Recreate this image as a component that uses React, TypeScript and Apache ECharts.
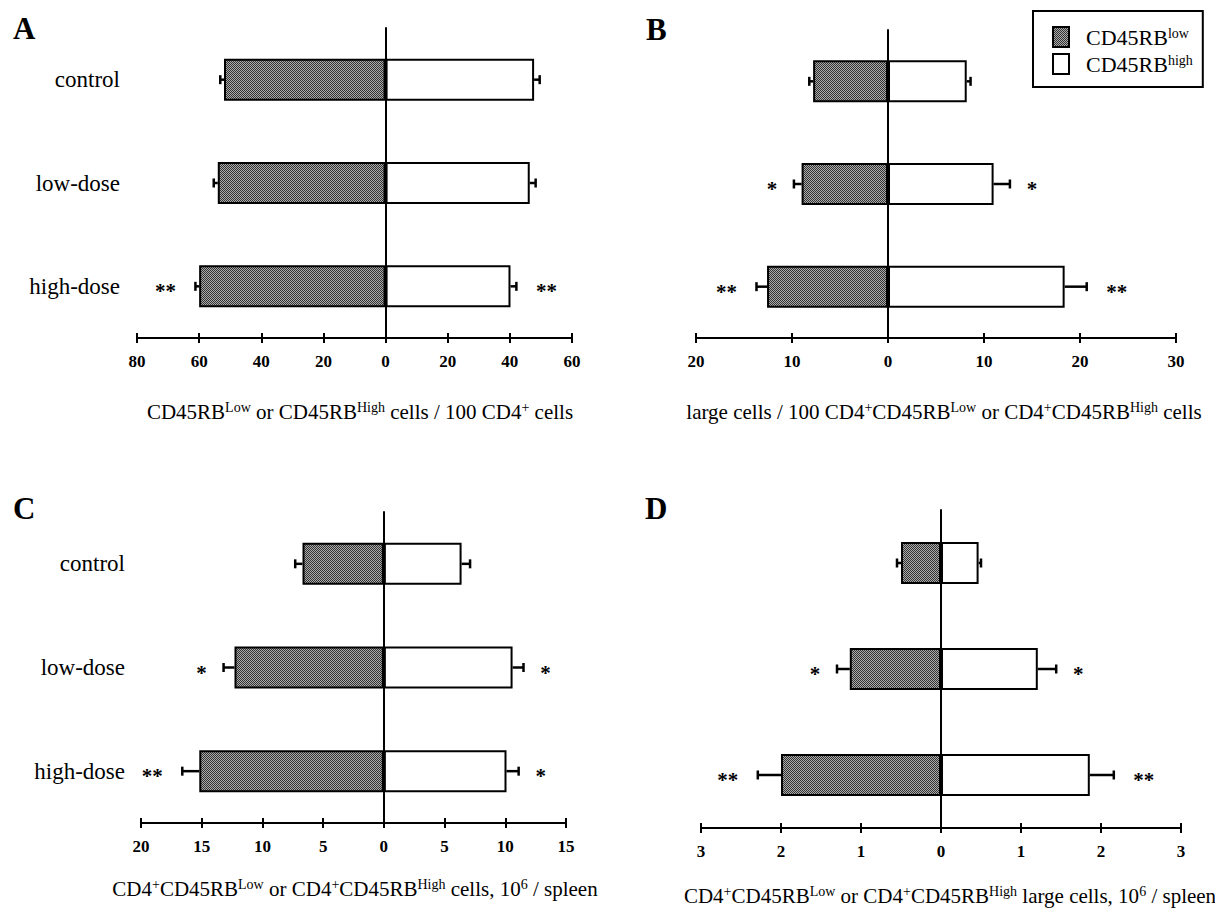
import React, { useEffect, useRef } from "react";
import * as echarts from "echarts";

const SERIF = "Liberation Serif";

const categories = ["control", "low-dose", "high-dose"];

// Panel A: CD45RB subsets / 100 CD4+ cells
const aLow = [52.0, 54.0, 60.0];
const aLowErr = [1.2, 1.3, 1.2];
const aHigh = [47.8, 46.4, 40.2];
const aHighErr = [1.8, 1.9, 1.9];
const aLowSig = ["", "", "**"];
const aHighSig = ["", "", "**"];
const aRange = [-80, 60, 20];

// Panel B: large cells / 100 cells
const bLow = [7.8, 9.0, 12.6];
const bLowErr = [0.4, 0.8, 1.1];
const bHigh = [8.2, 11.0, 18.4];
const bHighErr = [0.4, 1.7, 2.3];
const bLowSig = ["", "*", "**"];
const bHighSig = ["", "*", "**"];
const bRange = [-20, 30, 10];

// Panel C: cells, 10^6 / spleen
const cLow = [6.7, 12.3, 15.2];
const cLowErr = [0.6, 0.9, 1.4];
const cHigh = [6.4, 10.6, 10.1];
const cHighErr = [0.7, 0.9, 1.0];
const cLowSig = ["", "*", "**"];
const cHighSig = ["", "*", "*"];
const cRange = [-20, 15, 5];

// Panel D: large cells, 10^6 / spleen
const dLow = [0.5, 1.14, 2.0];
const dLowErr = [0.05, 0.16, 0.29];
const dHigh = [0.47, 1.21, 1.86];
const dHighErr = [0.03, 0.23, 0.3];
const dLowSig = ["", "*", "**"];
const dHighSig = ["", "*", "**"];
const dRange = [-3, 3, 1];

const lowName = "CD45RBlow";
const highName = "CD45RBhigh";

const titleA = "{m|CD45RB}{s|Low}{m| or CD45RB}{s|High}{m| cells / 100 CD4}{s|+}{m| cells}";
const titleB = "{m|large cells / 100 CD4}{s|+}{m|CD45RB}{s|Low}{m| or CD4}{s|+}{m|CD45RB}{s|High}{m| cells}";
const titleC = "{m|CD4}{s|+}{m|CD45RB}{s|Low}{m| or CD4}{s|+}{m|CD45RB}{s|High}{m| cells, 10}{s|6}{m| / spleen}";
const titleD = "{m|CD4}{s|+}{m|CD45RB}{s|Low}{m| or CD4}{s|+}{m|CD45RB}{s|High}{m| large cells, 10}{s|6}{m| / spleen}";

export default function App() {
  const ref = useRef<HTMLDivElement>(null);

  useEffect(() => {
    if (!ref.current) return;
    const canvas = document.createElement("canvas");
    canvas.width = 2;
    canvas.height = 2;
    const ctx = canvas.getContext("2d")!;
    ctx.fillStyle = "#ababab";
    ctx.fillRect(0, 0, 2, 2);
    ctx.fillStyle = "#333333";
    ctx.fillRect(0, 0, 1, 1);
    ctx.fillRect(1, 1, 1, 1);
    const hatch: any = { image: canvas, repeat: "repeat" };

    const panels = [
      { low: aLow, lowErr: aLowErr, high: aHigh, highErr: aHighErr, lowSig: aLowSig, highSig: aHighSig, range: aRange, labels: true, labelMargin: 17, grid: { left: 137, top: 28, width: 435, height: 310 } },
      { low: bLow, lowErr: bLowErr, high: bHigh, highErr: bHighErr, lowSig: bLowSig, highSig: bHighSig, range: bRange, labels: false, labelMargin: 17, grid: { left: 696, top: 30, width: 480, height: 308 } },
      { low: cLow, lowErr: cLowErr, high: cHigh, highErr: cHighErr, lowSig: cLowSig, highSig: cHighSig, range: cRange, labels: true, labelMargin: 16, grid: { left: 141, top: 512, width: 425, height: 311 } },
      { low: dLow, lowErr: dLowErr, high: dHigh, highErr: dHighErr, lowSig: dLowSig, highSig: dHighSig, range: dRange, labels: false, labelMargin: 17, grid: { left: 701, top: 510, width: 480, height: 318 } },
    ];

    const xAxis: any[] = [];
    const yAxis: any[] = [];
    const series: any[] = [];

    const errSeries = (vals: number[], errs: number[], sigs: string[], sign: number, xi: number, yi: number) => ({
      type: "custom",
      xAxisIndex: xi,
      yAxisIndex: yi,
      clip: false,
      silent: true,
      z: 5,
      data: vals.map((v, j) => [sign * v, j, sign * (v + errs[j])]),
      encode: { x: [0, 2], y: 1 },
      renderItem: (params: any, api: any) => {
        const p0 = api.coord([api.value(0), api.value(1)]);
        const p1 = api.coord([api.value(2), api.value(1)]);
        const sig = sigs[params.dataIndex];
        const children: any[] = [
          { type: "line", shape: { x1: p0[0], y1: p0[1], x2: p1[0], y2: p1[1] }, style: { stroke: "#000", lineWidth: 2.5 } },
          { type: "line", shape: { x1: p1[0], y1: p1[1] - 4.5, x2: p1[0], y2: p1[1] + 4.5 }, style: { stroke: "#000", lineWidth: 2.5 } },
        ];
        if (sig) {
          children.push({
            type: "text",
            x: p1[0] + sign * (sig.length > 1 ? 30 : 22),
            y: p1[1] + 5,
            style: { text: sig, fontSize: 21, fontWeight: "bold", fontFamily: SERIF, fill: "#000", align: "center", verticalAlign: "middle" },
          });
        }
        return { type: "group", children };
      },
    });

    const tickRich = { t: { fontFamily: SERIF, fontSize: 17, fontWeight: "bold", color: "#000" } };
    const catRich = { c: { fontFamily: SERIF, fontSize: 23, color: "#000" } };

    panels.forEach((p, i) => {
      const [min, max, interval] = p.range;
      const xi = i * 2;
      const yi = i * 2;
      xAxis.push({
        type: "value", gridIndex: i, min, max, interval, position: "bottom",
        axisLine: { show: true, onZero: false, lineStyle: { color: "#000", width: 2 } },
        axisTick: { show: true, inside: false, length: 5, lineStyle: { color: "#000", width: 2 } },
        axisLabel: { formatter: (v: number) => "{t|" + String(Math.abs(v)) + "}", rich: tickRich, margin: 15, color: "#000", fontFamily: SERIF, fontSize: 17, fontWeight: "bold" },
        splitLine: { show: false },
      });
      xAxis.push({
        type: "value", gridIndex: i, min, max, interval, position: "bottom",
        axisLine: { show: false, onZero: false },
        axisTick: { show: true, inside: true, length: 5, lineStyle: { color: "#000", width: 2 } },
        axisLabel: { show: false },
        splitLine: { show: false },
      });
      yAxis.push({
        type: "category", gridIndex: i, data: categories, inverse: true,
        axisLine: { show: true, onZero: true, lineStyle: { color: "#000", width: 2 } },
        axisTick: { show: false }, axisLabel: { show: false }, splitLine: { show: false },
      });
      yAxis.push({
        type: "category", gridIndex: i, data: categories, inverse: true, position: "left",
        axisLine: { show: false, onZero: false }, axisTick: { show: false }, splitLine: { show: false },
        axisLabel: { show: p.labels, margin: p.labelMargin, formatter: (v: string) => "{c|" + v + "}", rich: catRich, color: "#000", fontFamily: SERIF, fontSize: 23 },
      });
      series.push({
        name: lowName, type: "bar", xAxisIndex: xi, yAxisIndex: yi, barWidth: 42, barGap: "-100%",
        data: p.low.map((v) => -v),
        itemStyle: { color: hatch, borderColor: "#000", borderWidth: 2 },
      });
      series.push({
        name: highName, type: "bar", xAxisIndex: xi, yAxisIndex: yi, barWidth: 42, barGap: "-100%",
        data: p.high,
        itemStyle: { color: "#fff", borderColor: "#000", borderWidth: 2 },
      });
      series.push(errSeries(p.low, p.lowErr, p.lowSig, -1, xi, yi));
      series.push(errSeries(p.high, p.highErr, p.highSig, 1, xi, yi));
    });

    const rich = {
      m: { fontSize: 21, fontFamily: SERIF, color: "#000", lineHeight: 24 },
      s: { fontSize: 14, fontFamily: SERIF, color: "#000", verticalAlign: "top" },
    };
    const title = (text: string, x: number, y: number) => ({
      type: "text", x, y, silent: true,
      style: { text, rich, align: "center", verticalAlign: "middle", fontFamily: SERIF, fontSize: 21, fill: "#000" },
    });
    const letter = (text: string, x: number, y: number) => ({
      type: "text", x, y, silent: true,
      style: { text, fontFamily: SERIF, fontSize: 31, fontWeight: "bold", fill: "#000", align: "left", verticalAlign: "middle" },
    });

    const chart = echarts.init(ref.current, null, { renderer: "svg" });
    chart.setOption({
      animation: false,
      backgroundColor: "#fff",
      textStyle: { fontFamily: SERIF },
      legend: {
        orient: "vertical", left: 1033, top: 11,
        data: [lowName, highName],
        icon: "rect", itemWidth: 16, itemHeight: 20, itemGap: 5,
        borderColor: "#000", borderWidth: 2, padding: [15, 10, 12, 19],
        selectedMode: false,
        itemStyle: { borderColor: "#000", borderWidth: 2 },
        formatter: (name: string) => (name === lowName ? "{m|CD45RB}{s|low}" : "{m|CD45RB}{s|high}"),
        textStyle: {
          padding: [0, 0, 0, 12],
          rich: {
            m: { fontSize: 22, fontFamily: SERIF, color: "#000", lineHeight: 22 },
            s: { fontSize: 14, fontFamily: SERIF, color: "#000", verticalAlign: "top" },
          },
        },
      },
      grid: panels.map((p) => ({ ...p.grid })),
      xAxis,
      yAxis,
      series,
      graphic: [
        letter("A", 13, 28),
        letter("B", 646, 29),
        letter("C", 13, 508),
        letter("D", 645, 508),
        title(titleA, 360, 412),
        title(titleB, 944, 412),
        title(titleC, 355, 889),
        title(titleD, 950, 896),
      ],
    });
    return () => chart.dispose();
  }, []);

  return <div ref={ref} style={{ position: "absolute", left: 0, top: 0, width: 1215, height: 910, background: "#fff" }} />;
}
